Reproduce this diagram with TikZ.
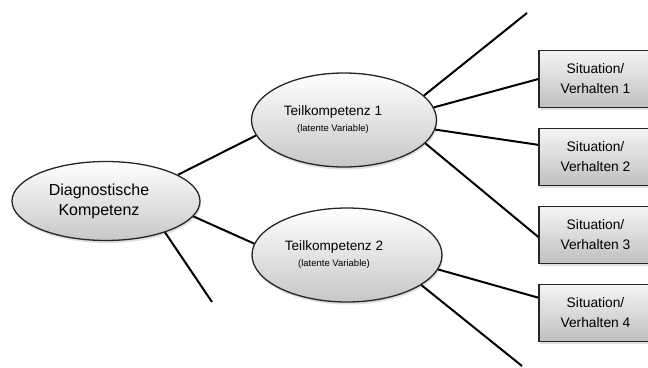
\documentclass[tikz,border=0pt]{standalone}
\usepackage{fontspec}
\setmainfont{Liberation Sans}
\usetikzlibrary{shapes.geometric,shadows}
\begin{document}
\begin{tikzpicture}[x=1pt,y=-1pt,
  ell/.style={ellipse, draw=black!85, line width=1.3pt, top color=white, bottom color=black!22,
    drop shadow={opacity=0.25, shadow xshift=1pt, shadow yshift=-2.5pt}, inner sep=0pt, align=center},
  sbox/.style={rectangle, draw=black!85, line width=1.3pt, top color=black!4, bottom color=black!25,
    minimum width=113pt, minimum height=57pt, inner sep=0pt, align=center,
    font=\fontsize{13.8}{20}\selectfont,
    drop shadow={opacity=0.25, shadow xshift=1pt, shadow yshift=-2.5pt}},
  conn/.style={line width=2pt, draw=black}]
\useasboundingbox (0,0) rectangle (648,367);
\clip (0,0) rectangle (648,367);
% ellipses
\node[ell, minimum width=188pt, minimum height=79pt, font=\fontsize{16}{20}\selectfont]
  (D) at (106,201) {Diagnostische\hspace*{14pt}\\Kompetenz\hspace*{14pt}};
\node[ell, minimum width=185pt, minimum height=94pt, font=\fontsize{13.6}{16}\selectfont]
  (T1) at (344,120) {Teilkompetenz 1\hspace*{22pt}\\{\fontsize{9.5}{12}\selectfont (latente Variable)\hspace*{22pt}}};
\node[ell, minimum width=190pt, minimum height=94pt, font=\fontsize{13.6}{16}\selectfont]
  (T2) at (347,255) {Teilkompetenz 2\hspace*{26pt}\\{\fontsize{9.5}{12}\selectfont (latente Variable)\hspace*{26pt}}};
% boxes
\node[sbox] (b1) at (595.5,79) {Situation/\\Verhalten 1};
\node[sbox] (b2) at (595.5,157) {Situation/\\Verhalten 2};
\node[sbox] (b3) at (595.5,235) {Situation/\\Verhalten 3};
\node[sbox] (b4) at (595.5,313) {Situation/\\Verhalten 4};
% free ends
\coordinate (fD) at (212,302);
\coordinate (f1) at (527,13);
\coordinate (f2) at (522,366);
% connectors
\draw[conn] (D.20) -- (T1.190);
\draw[conn] (D.-10) -- (T2.173);
\draw[conn] (D.-28) -- (fD);
\draw[conn] (T1.17) -- (f1);
\draw[conn] (T1.8) -- (b1.west);
\draw[conn] (T1.-6) -- (b2.168);
\draw[conn] (T1.-16) -- (b3.182);
\draw[conn] (T2.-9) -- (b4.165);
\draw[conn] (T2.-22) -- (f2);
\end{tikzpicture}
\end{document}
